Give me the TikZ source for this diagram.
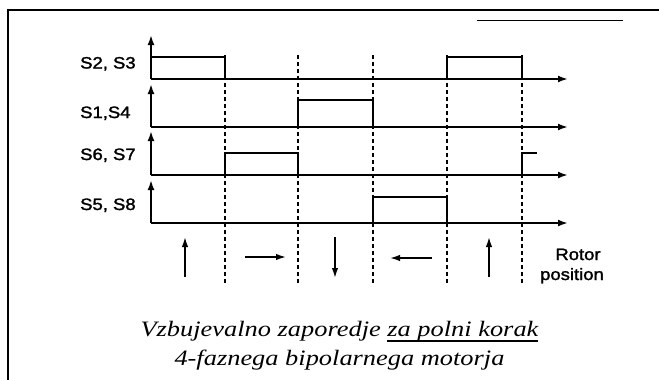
\documentclass[tikz,border=0pt]{standalone}
\usepackage{fontspec}
\setmainfont{Liberation Serif}
\newfontfamily\labfont[FakeBold=1.6]{Liberation Sans}
\usetikzlibrary{arrows.meta}
\newcommand\myul[1]{\setbox0\hbox{#1}\rlap{\rule[-5.5pt]{\wd0}{1.5pt}}\box0}
\newcommand\lbltxt[1]{\scalebox{1.12}[1]{#1}}
\newcommand\captxt[1]{\scalebox{1.2}[1]{#1}}
\begin{document}
\begin{tikzpicture}[x=1pt,y=-1pt,
  sig/.style={line width=2.3pt, line join=miter},
  ax/.style={line width=2pt, -{Latex[length=10pt,width=7pt]}},
  gridline/.style={line width=1.4pt, dash pattern=on 4pt off 3pt},
  rot/.style={line width=1.6pt, -{Latex[length=10pt,width=6.5pt]}},
  lbl/.style={font=\labfont\fontsize{16.5}{16.5}\selectfont, inner sep=0pt},
  captext/.style={font=\fontsize{22}{22}\selectfont\itshape, inner sep=0pt, anchor=base}]
\useasboundingbox (0,0) rectangle (659,380);
% frame
\draw[line width=1.8pt] (8,380) -- (8,10) -- (659,10);
\draw[line width=1pt] (477,20) -- (623,20);
% dashed step lines
\foreach \x in {225,298,373,447,522}
  \draw[gridline] (\x,55) -- (\x,283);
% axes
\foreach \b/\t in {79/35,127/84,175/131,223/180}{
  \draw[ax] (151,\b) -- (151,\t);
  \draw[ax] (151,\b) -- (568,\b);
}
% pulses
\draw[sig] (151,57) -- (225,57) -- (225,79);
\draw[sig] (447,79) -- (447,57) -- (522,57) -- (522,79);
\draw[sig] (298,127) -- (298,100) -- (373,100) -- (373,127);
\draw[sig] (225,175) -- (225,153) -- (298,153) -- (298,175);
\draw[sig] (522,175) -- (522,153) -- (537,153);
\draw[sig] (373,223) -- (373,197) -- (447,197) -- (447,223);
% labels
\node[lbl, anchor=base west] (l1) at (80,68.5) {\lbltxt{S2, S3}};
\node[lbl, anchor=base west] (l2) at (80,118) {\lbltxt{S1,S4}};
\node[lbl, anchor=base west] (l3) at (80,160) {\lbltxt{S6, S7}};
\node[lbl, anchor=base west] (l4) at (80,210) {\lbltxt{S5, S8}};
\node[lbl, anchor=base] (r1) at (578,260) {\lbltxt{Rotor}};
\node[lbl, anchor=base] (r2) at (572,280) {\lbltxt{position}};
% rotor arrows
\coordinate (a1s) at (185,277); \coordinate (a1e) at (185,237);
\coordinate (a2s) at (245,257); \coordinate (a2e) at (286,257);
\coordinate (a3s) at (335,237); \coordinate (a3e) at (335,278);
\coordinate (a4s) at (432,258); \coordinate (a4e) at (390,258);
\coordinate (a5s) at (489,277); \coordinate (a5e) at (489,237);
\draw[rot] (a1s) -- (a1e);
\draw[rot] (a2s) -- (a2e);
\draw[rot] (a3s) -- (a3e);
\draw[rot] (a4s) -- (a4e);
\draw[rot] (a5s) -- (a5e);
% caption
\node[captext] (c1) at (339.5,336) {\captxt{Vzbujevalno zaporedje \myul{za polni korak}}};
\node[captext] (c2) at (339.5,365) {\captxt{4-faznega bipolarnega motorja}};
\end{tikzpicture}
\end{document}
